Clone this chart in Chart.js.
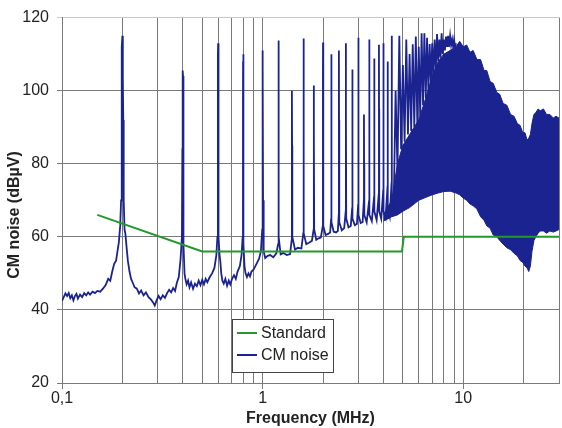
<!DOCTYPE html>
<html>
<head>
<meta charset="utf-8">
<script src="https://cdn.jsdelivr.net/npm/chart.js@4.4.0/dist/chart.umd.min.js"></script>
<style>
  html, body { margin: 0; padding: 0; background: #fff; }
  #wrap { width: 562px; height: 428px; position: relative; }
</style>
</head>
<body>
<div id="wrap"><canvas id="noiseChart"></canvas></div>
<script>
// grid / tick values
const gridFreqs = [0.1, 0.2, 0.3, 0.4, 0.5, 0.6, 0.7, 0.8, 0.9, 1, 2, 3, 4, 5, 6, 7, 8, 9, 10, 20, 30];
const xLabelValues = [0.1, 1, 10];
const xLabelTexts = ['0,1', '1', '10'];
const yTitle = 'CM noise (dB\u00b5V)';

// limit line
const standardFreq = [0.15, 0.5, 4.95, 5.05, 30];
const standardDb = [66, 56, 56, 60, 60];

// measured noise, 0.1 - 1 MHz
const lowFreq = [
  0.100, 0.102, 0.104, 0.106, 0.108, 0.110, 0.112, 0.114, 0.116, 0.118,
  0.120, 0.123, 0.126, 0.129, 0.132, 0.135, 0.138, 0.142, 0.146, 0.150,
  0.155, 0.160, 0.165, 0.170, 0.174, 0.178, 0.182, 0.186, 0.189, 0.192,
  0.195, 0.197, 0.198, 0.199, 0.200, 0.201, 0.202, 0.203, 0.205, 0.207,
  0.210, 0.213, 0.217, 0.221, 0.225, 0.230, 0.236, 0.242, 0.248, 0.255,
  0.262, 0.270, 0.278, 0.285, 0.290, 0.296, 0.303, 0.310, 0.318, 0.326,
  0.334, 0.342, 0.350, 0.358, 0.366, 0.374, 0.382, 0.390, 0.396, 0.398,
  0.399, 0.400, 0.401, 0.402, 0.404, 0.408, 0.412, 0.418, 0.425, 0.432,
  0.440, 0.450, 0.460, 0.470, 0.480, 0.490, 0.500, 0.510, 0.520, 0.530,
  0.545, 0.560, 0.575, 0.588, 0.595, 0.598, 0.599, 0.600, 0.601, 0.602,
  0.605, 0.610, 0.615, 0.622, 0.630, 0.640, 0.652, 0.665, 0.678, 0.690,
  0.705, 0.720, 0.735, 0.750, 0.770, 0.785, 0.795, 0.798, 0.799, 0.800,
  0.801, 0.802, 0.805, 0.812, 0.822, 0.835, 0.850, 0.865, 0.880, 0.900,
  0.920, 0.940, 0.960, 0.980, 0.995, 0.998
];
const lowDb = [
  42.5, 43.5, 44.5, 43.8, 44.6, 43.2, 44.0, 42.6, 43.8, 44.4,
  43.1, 44.2, 43.5, 44.6, 44.0, 44.8, 44.2, 45.0, 44.6, 45.2,
  45.0, 45.8, 46.8, 48.5, 48.0, 50.5, 52.6, 53.5, 56.0, 58.5,
  63, 70, 83, 112, 115, 103, 92, 70, 62, 60.8,
  57, 53.4, 50.5, 48.5, 47.5, 46.2, 45.8, 44.5, 45.3, 44.0,
  44.8, 43.5, 42.8, 42.0, 41.2, 42.6, 43.8, 42.9, 44.0, 43.3,
  44.6, 45.5, 44.8, 46.0, 45.2, 47.5, 49, 54, 60, 84,
  104, 105.5, 104, 72, 58, 50, 48.5, 47.0, 48.0, 46.2,
  47.5, 45.8, 47.2, 46.5, 48.0, 46.8, 48.2, 47.0, 48.5, 47.6,
  49.0, 50.0, 51.5, 55, 60, 84, 110, 113, 108, 85,
  60, 55, 53.4, 50, 48, 47.2, 48.5, 46.6, 48.0, 47.0,
  48.6, 49.5, 48.5, 50.5, 52, 55, 60, 97, 108, 110,
  99, 70, 58, 52, 50, 49, 50, 49.2, 50.5, 51,
  52, 53, 54, 56, 62, 100
];

// measured noise, 1 - 4.4 MHz
const midFreq = [
  1.000, 1.002, 1.005, 1.012, 1.030, 1.060, 1.090, 1.130, 1.170, 1.195,
  1.198, 1.200, 1.202, 1.206, 1.230, 1.270, 1.320, 1.370, 1.395, 1.398,
  1.400, 1.402, 1.406, 1.450, 1.500, 1.560, 1.595, 1.598, 1.600, 1.602,
  1.607, 1.650, 1.700, 1.760, 1.795, 1.798, 1.800, 1.802, 1.807, 1.850,
  1.900, 1.950, 1.995, 1.998, 2.000, 2.003, 2.008, 2.060, 2.120, 2.170,
  2.195, 2.198, 2.200, 2.203, 2.208, 2.260, 2.320, 2.370, 2.395, 2.398,
  2.400, 2.403, 2.410, 2.480, 2.550, 2.595, 2.598, 2.600, 2.603, 2.610,
  2.680, 2.750, 2.795, 2.798, 2.800, 2.803, 2.810, 2.880, 2.950, 2.995,
  2.998, 3.000, 3.004, 3.012, 3.080, 3.150, 3.195, 3.198, 3.200, 3.204,
  3.212, 3.300, 3.395, 3.398, 3.400, 3.404, 3.412, 3.500, 3.595, 3.598,
  3.600, 3.604, 3.612, 3.700, 3.795, 3.798, 3.800, 3.804, 3.812, 3.900,
  3.995, 3.998, 4.000, 4.004, 4.012, 4.100, 4.195, 4.198, 4.200, 4.204,
  4.212, 4.300, 4.395, 4.398, 4.400, 4.404, 4.412
];
const midDb = [
  111, 108, 70, 56, 54.2, 54.8, 55, 54.4, 55.5, 58,
  100, 113.7, 90, 60, 55.2, 55.6, 55.0, 55.3, 59, 95,
  100, 85, 60, 56.5, 57, 56.8, 61, 100, 114.3, 95,
  61, 58, 58.4, 58.9, 62, 90, 101.4, 88, 62, 59.2,
  59.6, 59.8, 63, 105, 113.2, 95, 63, 60.5, 60.8, 61.2,
  65, 100, 110, 90, 64, 61.4, 61.2, 61.6, 66, 100,
  111, 92, 64, 61.8, 62.4, 67, 100, 113, 95, 65,
  62.6, 63, 68, 95, 105.8, 90, 65, 63.2, 63.5, 69,
  100, 114.5, 95, 66, 63.8, 64, 70, 85, 93.5, 80,
  66, 64, 70, 100, 114, 95, 66, 64.3, 71, 98,
  108.8, 92, 67, 64.6, 72, 100, 112.6, 95, 67, 65,
  73, 100, 113, 95, 67, 65.3, 74, 98, 108, 92,
  68, 65.6, 75, 100, 115, 95, 70
];

// measured noise, 4.5 - 9.2 MHz (harmonic peaks)
const highFreq = [
  4.50, 4.60, 4.70, 4.80, 4.90, 5.00, 5.10, 5.20, 5.30, 5.40,
  5.50, 5.60, 5.70, 5.80, 5.90, 6.00, 6.10, 6.20, 6.30, 6.40,
  6.50, 6.60, 6.70, 6.80, 6.90, 7.00, 7.10, 7.20, 7.30, 7.40,
  7.50, 7.60, 7.70, 7.80, 7.90, 8.00, 8.10, 8.20, 8.30, 8.40,
  8.50, 8.60, 8.70, 8.80, 8.90, 9.00, 9.10, 9.20
];
const highDb = [
  68, 100, 78, 115, 84, 107, 86, 114, 88, 110,
  89, 112.7, 90, 114.8, 91, 112, 93, 115.7, 96, 115.7,
  98, 114.5, 100, 112.8, 102, 113, 104, 114, 106, 115.5,
  108, 114, 109, 115.7, 110, 114, 111, 114.8, 112, 115,
  112, 115, 112.5, 114, 112, 114, 112, 113
];

// dense part of the spectrum: upper and lower edge
const bandFreq = [
  4.0, 4.4, 4.7, 5.0, 5.4, 6.0, 6.5, 7.0, 7.5, 8.0,
  8.6, 9.2, 9.6, 10.0, 10.4, 10.8, 11.2, 11.7, 12.2, 12.7,
  13.1, 13.6, 14.1, 14.7, 15.2, 15.8, 16.5, 17.2, 17.9, 18.6,
  19.2, 19.8, 20.3, 20.8, 21.2, 21.6, 22.0, 22.5, 23.0, 23.6,
  24.2, 25.1, 26.0, 27.0, 28.1, 29.0, 30.0
];
const bandTop = [
  66, 70, 80, 85, 88, 92, 98, 104, 108, 110,
  111, 112, 113.5, 112, 112.5, 110.5, 111, 108.5, 108.5, 105.5,
  105.5, 102.5, 102, 99.5, 99, 96.5, 96, 93.5, 93, 91,
  90.5, 88.5, 88.5, 86.5, 87, 88, 91, 93.5, 94, 95,
  94.5, 95, 93.5, 93.5, 92.5, 93, 92.5
];
const bandBottom = [
  64.3, 65.5, 66, 67, 68, 70, 70.8, 71.5, 72, 72.4,
  72.5, 72, 71.5, 70.6, 70, 69, 68.5, 67.6, 65.5, 64.5,
  63, 62.4, 60.5, 60, 59, 58, 57, 56.5, 55.5, 54.8,
  53.5, 53, 52, 51.5, 50.5, 52, 56, 59, 60, 61,
  61.6, 61.6, 61, 61.6, 61.3, 61.6, 62
];

const navy = '#1a2390';
const green = '#22992a';
const gridGray = '#7a7a7a';
const fontFamily = '"Liberation Sans", Arial, sans-serif';

function pts(xs, ys) {
  return xs.map((x, i) => ({ x: x, y: ys[i] }));
}

const noiseFreq = lowFreq.concat(midFreq, highFreq);
const noiseDb = lowDb.concat(midDb, highDb);

// legend box and rotated y title
const overlay = {
  id: 'overlay',
  afterDraw(c) {
    const ctx = c.ctx;
    ctx.save();
    ctx.translate(15, 215);
    ctx.rotate(-Math.PI / 2);
    ctx.font = 'bold 16px ' + fontFamily;
    ctx.fillStyle = '#222';
    ctx.textAlign = 'center';
    ctx.textBaseline = 'middle';
    ctx.fillText(yTitle, 0, 0);
    ctx.restore();

    ctx.save();
    ctx.fillStyle = '#fff';
    ctx.fillRect(232, 319, 101, 53);
    ctx.strokeStyle = '#444';
    ctx.lineWidth = 1;
    ctx.strokeRect(232.5, 319.5, 101, 53);
    ctx.font = '16px ' + fontFamily;
    ctx.textBaseline = 'middle';
    ctx.fillStyle = '#222';
    [0, 1].forEach((idx, k) => {
      const ds = c.data.datasets[idx];
      const y = 333 + k * 22;
      ctx.strokeStyle = ds.borderColor;
      ctx.lineWidth = 2;
      ctx.beginPath();
      ctx.moveTo(237, y);
      ctx.lineTo(257, y);
      ctx.stroke();
      ctx.fillText(ds.label, 261, y + 1);
    });
    ctx.restore();
  }
};

new Chart(document.getElementById('noiseChart'), {
  type: 'line',
  data: {
    datasets: [
      {
        label: 'Standard',
        data: pts(standardFreq, standardDb),
        borderColor: green,
        borderWidth: 2,
        pointRadius: 0,
        fill: false
      },
      {
        label: 'CM noise',
        data: pts(noiseFreq, noiseDb),
        borderColor: navy,
        borderWidth: 1.8,
        pointRadius: 0,
        fill: false
      },
      {
        label: 'band top',
        data: pts(bandFreq, bandTop),
        borderColor: navy,
        backgroundColor: navy,
        borderWidth: 1,
        pointRadius: 0,
        fill: '+1'
      },
      {
        label: 'band bottom',
        data: pts(bandFreq, bandBottom),
        borderColor: navy,
        borderWidth: 1,
        pointRadius: 0,
        fill: false
      }
    ]
  },
  options: {
    responsive: true,
    maintainAspectRatio: false,
    animation: false,
    layout: { padding: { top: 16, right: 3, left: 0, bottom: 0 } },
    plugins: {
      legend: { display: false },
      tooltip: { enabled: false }
    },
    scales: {
      x: {
        type: 'logarithmic',
        min: 0.1,
        max: 30,
        afterBuildTicks: s => { s.ticks = gridFreqs.map(v => ({ value: v })); },
        afterFit: s => { s.height = 45; },
        ticks: {
          autoSkip: false,
          maxRotation: 0,
          padding: 0,
          color: '#222',
          font: { family: fontFamily, size: 16 },
          callback: v => {
            const i = xLabelValues.indexOf(v);
            return i < 0 ? '' : xLabelTexts[i];
          }
        },
        grid: {
          color: gridGray,
          tickLength: 6,
          tickColor: ctx => (ctx.tick && xLabelValues.includes(ctx.tick.value)) ? gridGray : 'rgba(0,0,0,0)'
        },
        border: { color: gridGray },
        title: {
          display: true,
          text: 'Frequency (MHz)',
          color: '#222',
          font: { family: fontFamily, size: 16, weight: 'bold' },
          padding: { top: 0, bottom: 0 }
        }
      },
      y: {
        min: 20,
        max: 120,
        afterFit: s => { s.width = 62; },
        ticks: {
          stepSize: 20,
          padding: 8,
          color: '#222',
          font: { family: fontFamily, size: 16 }
        },
        grid: {
          color: ctx => (ctx.tick && ctx.tick.value === 120) ? '#c8c8c8' : gridGray,
          tickLength: 5
        },
        border: { color: gridGray }
      }
    }
  },
  plugins: [overlay]
});
</script>
</body>
</html>
